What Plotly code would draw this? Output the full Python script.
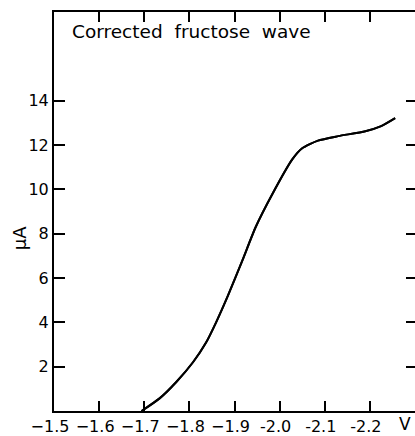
import plotly.graph_objects as go

# Data
voltage = [-1.694, -1.734, -1.771, -1.808, -1.837, -1.859, -1.885, -1.918,
           -1.947, -1.984, -2.028, -2.050, -2.085, -2.13, -2.19, -2.225, -2.256]
current = [0.0, 0.57, 1.31, 2.2, 3.09, 3.99, 5.18, 6.82,
           8.3, 9.79, 11.35, 11.85, 12.2, 12.4, 12.62, 12.85, 13.21]

x_tickvals = [-1.5, -1.6, -1.7, -1.8, -1.9, -2.0, -2.1, -2.2]
x_ticktext = ["−1.5", "−1.6", "−1.7", "−1.8", "−1.9", "-2.0", "-2.1", "-2.2"]
y_tickvals = [2, 4, 6, 8, 10, 12, 14]
y_ticktext = ["2", "4", "6", "8", "10", "12", "14"]

FONT = "DejaVu Sans"
NB = "\u00a0"

fig = go.Figure()
fig.add_trace(go.Scatter(
    x=voltage, y=current, mode="lines",
    line=dict(color="black", width=2, shape="spline", smoothing=0.6),
    hoverinfo="skip", showlegend=False,
))
# same curve on the right-hand overlay axis so that its ticks are drawn
fig.add_trace(go.Scatter(
    x=voltage, y=current, mode="lines", yaxis="y2",
    line=dict(color="black", width=2, shape="spline", smoothing=0.6),
    hoverinfo="skip", showlegend=False,
))

fig.update_layout(
    width=415, height=436,
    margin=dict(l=54, r=0, t=12, b=20),
    paper_bgcolor="white", plot_bgcolor="white",
    font=dict(family=FONT, color="black", size=16),
    xaxis=dict(
        range=[-1.5, -2.3], showgrid=False, zeroline=False,
        showline=True, linecolor="black", linewidth=2, mirror="ticks",
        ticks="inside", ticklen=10, tickwidth=1.5, tickcolor="black",
        tickvals=x_tickvals, ticktext=x_ticktext,
        tickfont=dict(size=16), ticklabelstandoff=0, ticklabelshift=4,
    ),
    yaxis=dict(
        range=[0, 18], showgrid=False, zeroline=False,
        showline=True, linecolor="black", linewidth=2, mirror=False,
        ticks="inside", ticklen=11, tickwidth=1.5, tickcolor="black",
        tickvals=y_tickvals, ticktext=y_ticktext,
        tickfont=dict(size=16),
    ),
    yaxis2=dict(
        range=[0, 18], overlaying="y", side="right", showgrid=False,
        zeroline=False, showline=False,
        ticks="inside", ticklen=9,
        tickwidth=1.5, tickcolor="black", tickvals=y_tickvals,
        showticklabels=False,
    ),
    annotations=[
        dict(text="Corrected" + NB * 2 + "fructose" + NB * 2 + "wave",
             xref="paper", yref="paper",
             x=0.044, y=0.95, xanchor="left", yanchor="middle",
             showarrow=False, font=dict(size=18.5)),
        dict(text="V", xref="paper", yref="paper", x=0.972, y=0,
             xanchor="center", yanchor="top", yshift=-1,
             showarrow=False, font=dict(size=17)),
        dict(text="µA", xref="paper", yref="paper", x=-0.097, y=0.433,
             xanchor="center", yanchor="middle", textangle=-90,
             showarrow=False, font=dict(size=18)),
    ],
)

fig.write_html("out.html")
